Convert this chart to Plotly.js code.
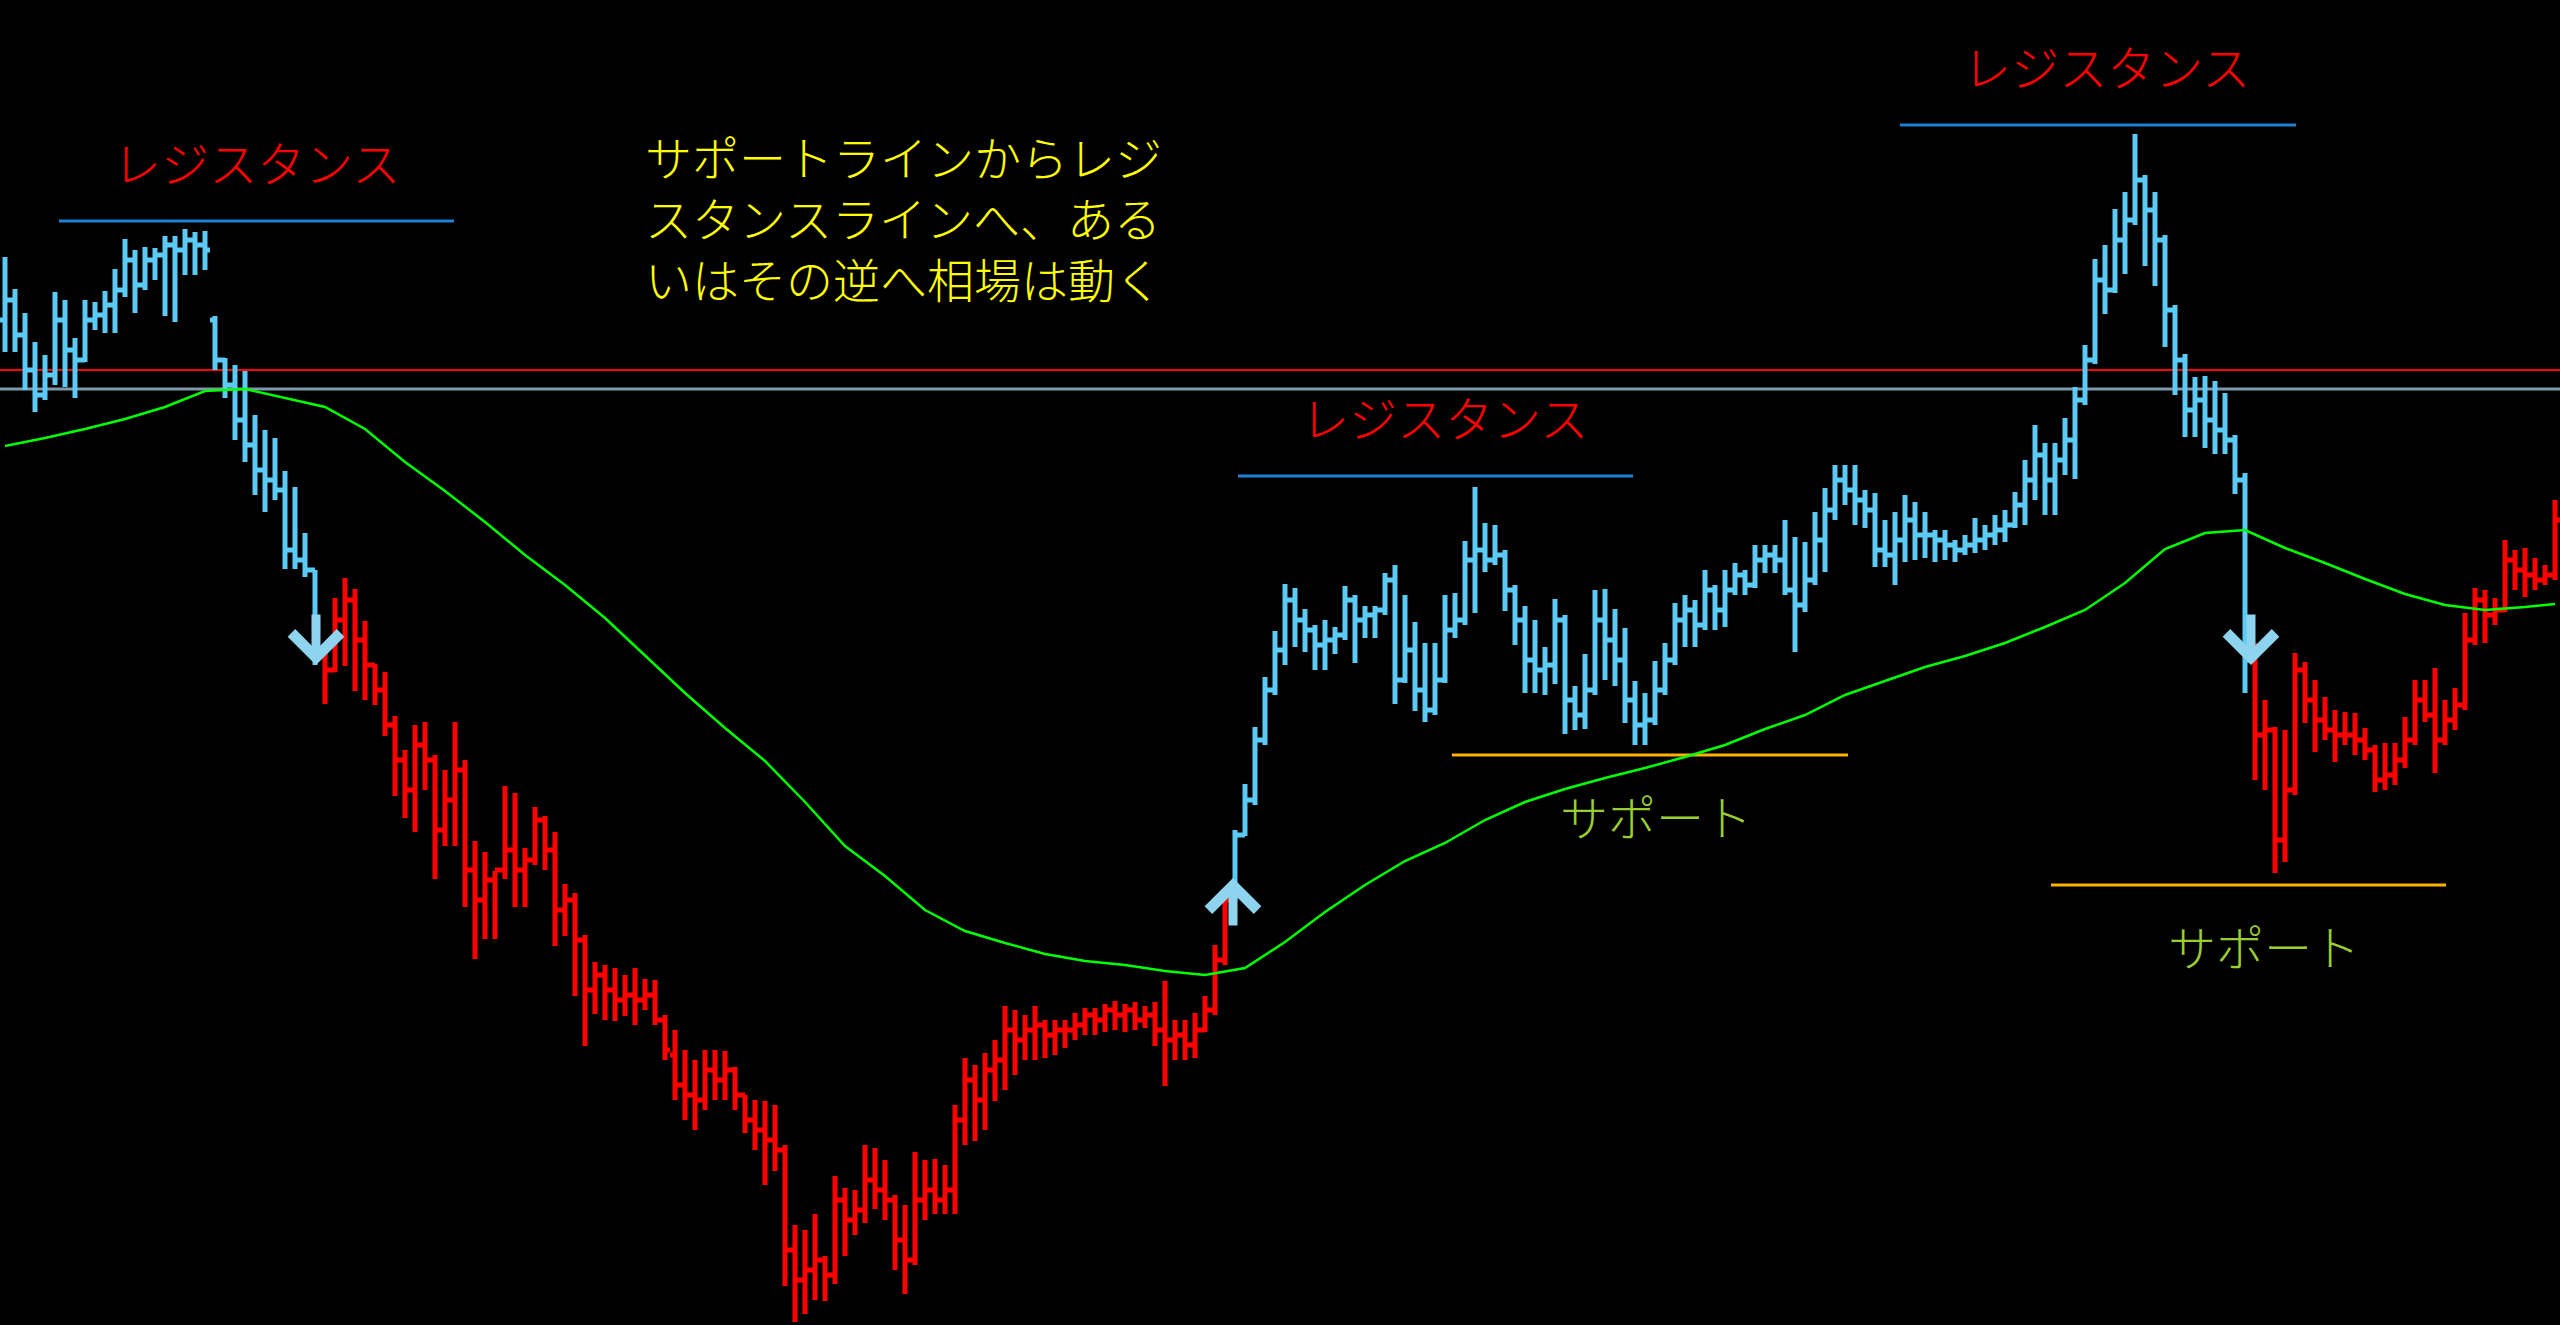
<!DOCTYPE html>
<html><head><meta charset="utf-8">
<script src="https://cdn.plot.ly/plotly-3.0.1.min.js"></script>
<style>html,body{margin:0;padding:0;background:#000;overflow:hidden}#chart{width:2560px;height:1325px}</style>
</head><body><div id="chart"></div>
<script>
// ---- price bars (one value per bar) ----
const openP = [
1005,1025,990,955,930,950,1005,975,965,1005,
1010,1020,1035,1065,1040,1065,1070,1080,1075,1085,
1080,1005,965,940,905,880,855,845,835,775,
765,755,675,655,705,725,685,660,635,600,
565,535,580,565,495,525,555,455,425,445,
455,475,455,465,505,475,415,425,385,335,
350,335,325,330,325,330,305,270,240,230,
225,255,245,255,230,205,195,185,175,75,
45,55,65,50,125,105,115,145,135,125,
85,65,125,135,125,135,205,245,225,255,
265,295,285,295,300,290,295,295,300,310,
305,315,310,315,305,310,295,285,290,280,
295,315,365,430,490,525,585,635,675,725,
705,695,680,685,690,725,705,710,715,745,
645,675,635,615,645,695,705,765,775,765,
770,735,705,665,655,660,705,625,610,635,
705,685,665,625,600,605,635,665,705,715,
700,735,715,735,750,740,765,770,765,735,
720,745,785,815,845,835,825,815,775,770,
785,805,790,790,785,780,775,780,785,790,
795,800,820,845,870,845,865,885,925,965,
1045,1035,1085,1105,1145,1115,1085,1015,965,915,
925,905,895,885,845,665,590,595,485,535,
655,625,605,595,590,590,585,575,545,550,
565,585,625,610,585,605,620,685,725,710,
715,765,755,750,745,750];
const highP = [
1068,1036,1012,983,970,1033,1025,987,1025,1023,
1034,1056,1086,1075,1078,1077,1089,1089,1096,1093,
1094,1009,967,960,954,910,895,887,854,838,
792,755,682,727,747,736,704,661,653,609,
575,600,603,570,555,603,565,484,473,454,
539,532,477,518,509,493,441,432,390,363,
360,357,350,357,346,345,310,295,275,265,
275,275,274,258,230,225,224,220,180,100,
95,111,69,149,137,135,180,177,165,130,
120,173,165,166,160,220,267,260,272,285,
319,315,310,319,305,305,305,312,317,317,
321,324,321,323,319,323,344,305,305,312,
329,380,432,495,541,598,648,694,741,737,
716,700,705,698,739,730,719,719,752,760,
730,703,682,682,730,732,784,838,802,800,
775,740,719,705,678,726,710,639,671,735,
736,716,697,644,632,664,682,722,730,725,
755,740,755,762,755,780,780,780,805,788,
783,813,837,860,860,860,835,832,805,813,
830,823,813,795,795,785,790,807,800,810,
815,833,865,900,882,882,907,938,980,1066,
1080,1116,1133,1191,1150,1133,1090,1020,971,948,
949,944,932,890,852,682,625,598,595,672,
663,645,628,615,613,612,597,580,582,582,
608,645,645,657,625,637,712,737,735,727,
785,775,777,767,760,825];
const lowP = [
973,973,935,913,925,940,938,927,963,995,
992,992,1028,1012,1035,1045,1009,1003,1050,1050,
1055,955,927,885,863,830,813,825,756,756,
748,660,621,653,659,634,625,620,589,529,
507,493,535,446,479,479,418,366,386,386,
446,418,418,460,455,379,389,329,279,311,
305,304,309,300,315,300,265,225,205,195,
215,225,225,215,192,175,140,154,39,3,
11,25,24,41,69,90,102,116,105,55,
31,60,105,111,111,111,180,184,195,224,
235,250,265,265,267,270,277,285,290,290,
293,295,293,295,297,279,239,265,265,267,
293,310,360,425,489,520,580,630,660,678,
673,655,655,671,685,662,687,687,710,621,
642,614,603,610,642,687,700,712,753,760,
714,680,632,632,630,641,591,595,596,630,
645,639,602,580,580,600,630,660,678,678,
695,695,698,730,730,737,752,752,730,673,
713,740,753,805,820,800,797,758,758,740,
763,765,767,763,765,763,770,772,775,780,
783,797,800,825,810,810,850,846,920,961,
1011,1032,1051,1100,1059,1039,978,930,888,888,
877,871,871,831,632,545,535,452,463,530,
602,573,585,563,580,570,565,533,535,540,
557,580,603,552,580,595,615,680,682,700,
713,735,728,735,740,745];
const closeP = [
1025,990,955,930,950,1005,975,965,1005,1010,
1020,1035,1065,1040,1065,1070,1080,1075,1085,1080,
1075,965,940,905,880,855,845,835,775,765,
755,675,655,705,725,685,660,635,600,565,
535,580,565,495,525,555,455,425,445,455,
475,455,465,505,475,415,425,385,335,350,
335,325,330,325,330,305,275,240,230,225,
255,245,255,230,205,195,185,175,75,45,
55,65,50,125,105,115,145,135,125,85,
65,125,135,125,135,205,245,225,255,265,
295,285,295,300,290,295,295,300,310,305,
315,310,315,305,310,295,285,290,280,295,
315,365,425,490,525,585,635,675,725,705,
695,680,685,690,725,705,710,715,745,645,
675,635,615,645,695,705,765,775,765,770,
735,705,665,655,660,705,625,610,635,705,
685,665,625,600,605,635,665,705,715,700,
735,715,735,750,740,765,770,765,735,720,
745,785,815,845,835,825,815,775,770,785,
805,790,790,785,780,775,780,785,790,795,
800,820,845,870,845,865,885,925,965,1045,
1035,1085,1105,1145,1115,1085,1015,965,915,925,
905,895,885,845,665,590,595,485,535,655,
625,605,595,590,590,585,575,545,550,565,
585,625,610,585,605,620,685,725,710,715,
765,755,750,745,750,805];

// ---- trend regimes (bar index ranges) ----
const segStart = [0, 32, 123, 225];
const segEnd   = [31, 122, 224, 255];
const segTrend = ['up', 'down', 'up', 'down'];

// ---- moving average (read at every 4th bar) ----
const maIdx = [0,4,8,12,16,20,24,28,32,36,40,44,48,52,56,60,64,68,72,76,80,84,88,92,96,100,104,108,112,116,120,124,128,132,136,140,144,148,152,156,160,164,168,172,176,180,184,188,192,196,200,204,208,212,216,220,224,228,232,236,240,244,248,252,255];
const maVal = [879,887,896,906,918,934,936,927,918,896,863,834,803,770,740,707,670,632,597,564,523,479,449,415,394,382,371,364,360,354,350,357,383,413,440,464,482,505,523,536,547,557,568,580,596,610,630,644,658,669,682,698,715,742,776,792,795,777,762,746,731,720,715,718,721];

// ---- horizontal levels ----
const redLevel = 955;
const greyLevel = 936;
const resLevel = [1104, 849, 1200];
const resFrom  = [5.4, 123.3, 189.5];
const resTo    = [44.9, 162.8, 229.1];
const resShift = [0, 9, 8];
const supLevel = [570, 440];
const supFrom  = [144.7, 204.6];
const supTo    = [184.3, 244.1];
const supShift = [6, 15];

// ---- signal arrows ----
const sigIdx   = [31.1, 122.8, 224.6];
const sigPrice = [660, 447, 660];
const sigDir   = ['down', 'up', 'down'];

// ---- texts ----
const resText = 'レジスタンス';
const supText = 'サポート';
const noteLines = ['サポートラインからレジ', 'スタンスラインへ、ある', 'いはその逆へ相場は動く'];

const barIndex = openP.map((_, i) => i);
const COL = {up: '#5bcbf5', down: '#ff0000'};
const FONT = '"Noto Sans CJK JP", "Noto Sans CJK SC", sans-serif';

const traces = [];
segStart.forEach((s, k) => {
  const e = segEnd[k] + 1;
  const c = COL[segTrend[k]];
  traces.push({
    type: 'ohlc',
    x: barIndex.slice(s, e),
    open: openP.slice(s, e), high: highP.slice(s, e),
    low: lowP.slice(s, e), close: closeP.slice(s, e),
    increasing: {line: {color: c, width: 5}},
    decreasing: {line: {color: c, width: 5}},
    tickwidth: 0.5,
    hoverinfo: 'skip', showlegend: false
  });
});
traces.push({
  type: 'scatter', mode: 'lines', x: maIdx, y: maVal,
  line: {color: '#00ff00', width: 2.5}, hoverinfo: 'skip', showlegend: false
});

const shapes = [
  {type: 'line', layer: 'below', xref: 'paper', x0: 0, x1: 1, yref: 'y', y0: redLevel, y1: redLevel, line: {color: '#ff0000', width: 2}},
  {type: 'line', layer: 'below', xref: 'paper', x0: 0, x1: 1, yref: 'y', y0: greyLevel, y1: greyLevel, line: {color: '#7f98aa', width: 3}}
];
resLevel.forEach((v, k) => shapes.push({type: 'line', layer: 'below', xref: 'x', yref: 'y', x0: resFrom[k], x1: resTo[k], y0: v, y1: v, line: {color: '#1e80d8', width: 3}}));
supLevel.forEach((v, k) => shapes.push({type: 'line', layer: 'below', xref: 'x', yref: 'y', x0: supFrom[k], x1: supTo[k], y0: v, y1: v, line: {color: '#ffb000', width: 3}}));

const annotations = [];
resLevel.forEach((v, k) => annotations.push({
  xref: 'x', yref: 'y', x: (resFrom[k] + resTo[k]) / 2, y: v, xshift: resShift[k], yshift: 60,
  text: resText, showarrow: false, xanchor: 'center', yanchor: 'middle',
  font: {family: FONT, size: 48, color: '#ff0000', weight: 300}
}));
supLevel.forEach((v, k) => annotations.push({
  xref: 'x', yref: 'y', x: (supFrom[k] + supTo[k]) / 2, y: v, xshift: supShift[k], yshift: -60,
  text: supText, showarrow: false, xanchor: 'center', yanchor: 'middle',
  font: {family: FONT, size: 48, color: '#9acd32', weight: 300}
}));
annotations.push({
  xref: 'paper', yref: 'paper', x: 643 / 2560, y: 1 - 216 / 1325,
  text: noteLines.join('<br>'), showarrow: false, xanchor: 'left', yanchor: 'middle', align: 'left',
  font: {family: FONT, size: 47, color: '#ffff00', weight: 300}
});
sigIdx.forEach((xi, k) => annotations.push({
  xref: 'x', yref: 'y', x: xi, y: sigPrice[k], text: '', showarrow: true,
  arrowhead: 4, arrowsize: 1.05, arrowwidth: 9, arrowcolor: '#8fd4ef',
  ax: 0, ay: sigDir[k] === 'down' ? -52 : 49, standoff: 0
}));

const layout = {
  width: 2560, height: 1325,
  paper_bgcolor: '#000', plot_bgcolor: '#000',
  margin: {l: 0, r: 0, t: 0, b: 0, pad: 0},
  showlegend: false,
  xaxis: {range: [-0.5, 255.5], visible: false, showgrid: false, zeroline: false, rangeslider: {visible: false}, fixedrange: true},
  yaxis: {range: [0, 1325], visible: false, showgrid: false, zeroline: false, fixedrange: true},
  shapes: shapes,
  annotations: annotations
};

Plotly.newPlot('chart', traces, layout, {displayModeBar: false, staticPlot: true});
</script>
</body></html>
